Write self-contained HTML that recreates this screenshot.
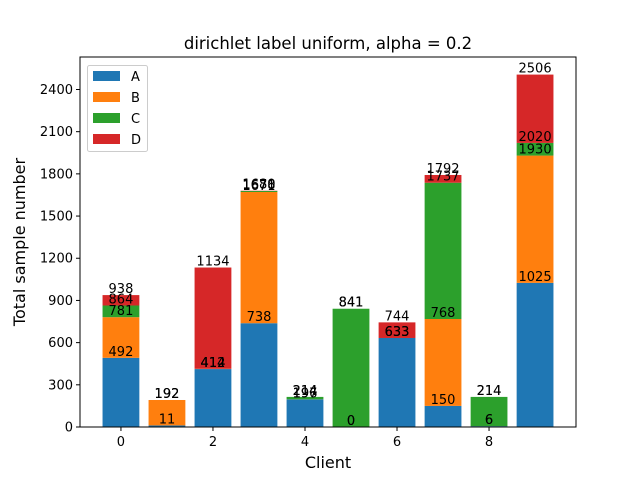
<!DOCTYPE html>
<html><head><meta charset="utf-8"><style>
body{margin:0;background:#fff;}
text{font-family:"DejaVu Sans","Liberation Sans",sans-serif;}
</style></head><body>
<svg id="chart" width="640" height="480" xmlns="http://www.w3.org/2000/svg">
<rect width="640" height="480" fill="#fff"/>
<g id="bars"></g>
<g id="labels"></g>
<g id="axes"></g>
</svg>
<script>
const clients = [0,1,2,3,4,5,6,7,8,9];
const seriesA = [492,11,412,738,196,0,633,150,6,1025];
const seriesB = [289,181,2,933,1,0,0,618,0,905];
const seriesC = [83,0,0,7,17,841,0,969,208,90];
const seriesD = [74,0,720,2,0,0,111,55,0,486];
const yTicks = [0,300,600,900,1200,1500,1800,2100,2400];
const xTicks = [0,2,4,6,8];
const seriesNames = ['A','B','C','D'];
const colors = ['#1f77b4','#ff7f0e','#2ca02c','#d62728'];

const L=80,R=576,T=57,B=427;
const xmin=-0.89,xmax=9.89,ymax=2631;
const xs=v=>L+(v-xmin)/(xmax-xmin)*(R-L);
const ys=v=>B-v/ymax*(B-T);
const NS='http://www.w3.org/2000/svg';
function mk(tag,attrs,parent,txt){const e=document.createElementNS(NS,tag);for(const k in attrs)e.setAttribute(k,attrs[k]);if(txt!==undefined)e.textContent=txt;parent.appendChild(e);return e;}
const gb=document.getElementById('bars'),gl=document.getElementById('labels'),ga=document.getElementById('axes');
const all=[seriesA,seriesB,seriesC,seriesD];
const bw=0.8;
clients.forEach((c,i)=>{
  let cum=0;
  all.forEach((s,k)=>{
    const v=s[i];const y0=cum;cum+=v;
    const r=mk('rect',{x:xs(c-bw/2),y:ys(cum),width:xs(c+bw/2)-xs(c-bw/2),height:ys(y0)-ys(cum),fill:colors[k]},gb);
    
    
  });
  cum=0;
  all.forEach((s,k)=>{
    cum+=s[i];
    const t=mk('text',{x:xs(c),y:ys(cum)-2,'text-anchor':'middle','font-size':'13',fill:'#000'},gl,String(cum));
    
    
  });
});
const fr=mk('rect',{x:L,y:T,width:R-L,height:B-T,fill:'none',stroke:'#000','stroke-width':1},ga);


yTicks.forEach(v=>{
  mk('line',{x1:L-4,x2:L,y1:ys(v),y2:ys(v),stroke:'#000'},ga);
  const t=mk('text',{x:L-7,y:ys(v)+4.5,'text-anchor':'end','font-size':'13'},ga,String(v));
  
  
});
xTicks.forEach(v=>{
  mk('line',{x1:xs(v),x2:xs(v),y1:B,y2:B+4,stroke:'#000'},ga);
  const t=mk('text',{x:xs(v),y:B+19,'text-anchor':'middle','font-size':'13'},ga,String(v));
  
  
});
let t=mk('text',{x:(L+R)/2,y:49,'text-anchor':'middle','font-size':'16.5'},ga,'dirichlet label uniform, alpha = 0.2');

t=mk('text',{x:(L+R)/2,y:468,'text-anchor':'middle','font-size':'16'},ga,'Client');

t=mk('text',{x:25,y:(T+B)/2,'text-anchor':'middle','font-size':'16',transform:'rotate(-90 25 '+((T+B)/2)+')'},ga,'Total sample number');

const lg=mk('g',{},ga);

mk('rect',{x:87.5,y:65.5,width:60,height:86,rx:2,fill:'#fff','fill-opacity':0.8,stroke:'#ccc'},lg);
seriesNames.forEach((n,k)=>{
  const y=76+k*21;
  mk('rect',{x:93,y:y-5,width:27,height:10,fill:colors[k]},lg);
  const tt=mk('text',{x:131,y:y+5,'font-size':'13'},lg,n);
  
  
});
</script>
</body></html>
